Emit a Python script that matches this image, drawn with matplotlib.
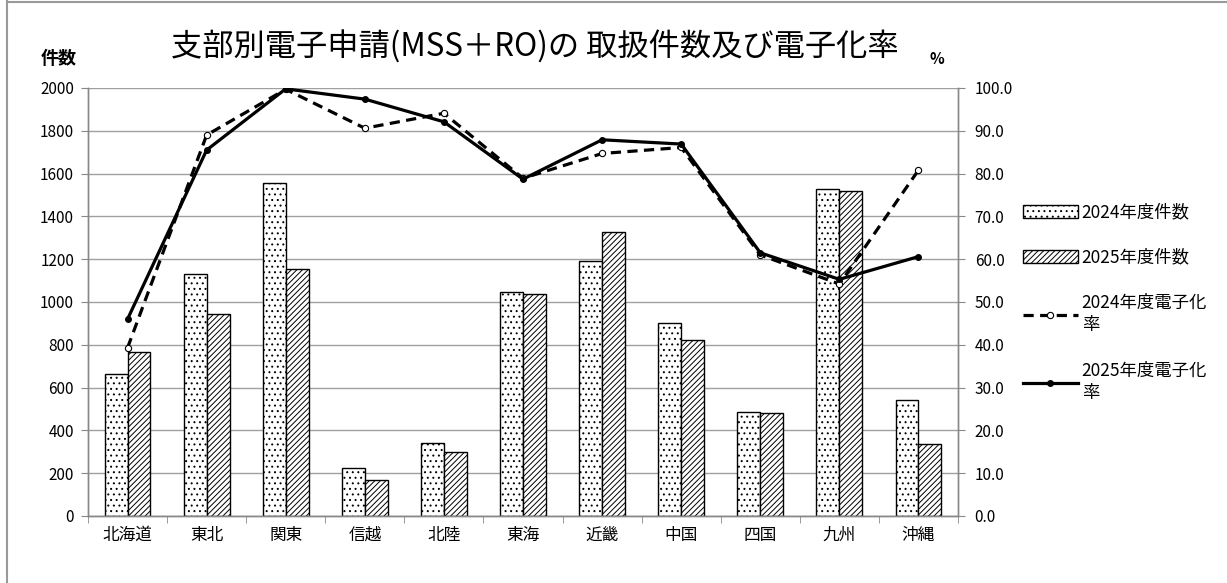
import matplotlib
matplotlib.use("Agg")
import matplotlib.pyplot as plt
from matplotlib.lines import Line2D
import numpy as np

plt.rcParams['font.family'] = ['Noto Sans CJK JP', 'DejaVu Sans']
plt.rcParams['hatch.linewidth'] = 0.7

# data
branches = ['北海道', '東北', '関東', '信越', '北陸', '東海', '近畿', '中国', '四国', '九州', '沖縄']
count_2024 = [662, 1129, 1556, 223, 343, 1047, 1193, 900, 487, 1528, 542]
count_2025 = [768, 942, 1156, 168, 300, 1037, 1327, 822, 480, 1520, 335]
rate_2024 = [39.3, 89.0, 99.7, 90.6, 94.1, 78.9, 84.7, 86.1, 61.0, 54.2, 80.8]
rate_2025 = [46.0, 85.5, 99.8, 97.4, 92.1, 78.7, 87.9, 86.9, 61.5, 55.3, 60.6]
left_ticks = list(range(0, 2001, 200))
right_ticks = list(range(0, 101, 10))

W, H = 1227, 583
fig = plt.figure(figsize=(W / 100, H / 100), dpi=100)
ax = fig.add_axes([88 / W, 1 - 516 / H, 870 / W, 428 / H])
ax2 = ax.twinx()

x = np.arange(len(branches))
bw = 0.29
b1 = ax.bar(x - bw / 2, count_2024, bw, color='white', edgecolor='black',
            hatch='...', linewidth=1.0, label='2024年度件数', zorder=2)
b2 = ax.bar(x + bw / 2, count_2025, bw, color='white', edgecolor='black',
            hatch='//////', linewidth=1.0, label='2025年度件数', zorder=2)

ax.set_xlim(-0.5, len(branches) - 0.5)
ax.set_ylim(0, 2000)
ax.set_yticks(left_ticks)
ax.grid(axis='y', color='#a0a0a0', linewidth=1.0, zorder=0)
ax.set_axisbelow(True)
ax.set_xticks(x)
ax.set_xticklabels(branches, fontsize=12)
ax.set_xticks(np.arange(-0.5, len(branches)), minor=True)
ax.tick_params(axis='x', which='major', length=0, pad=8)
ax.tick_params(axis='x', which='minor', length=5, color='#888888', direction='out')
ax.tick_params(axis='y', length=5, color='#888888', labelsize=11, pad=5)

l1, = ax2.plot(x, rate_2024, color='black', linewidth=2.3, linestyle=(0, (3.2, 2)),
               marker='o', markersize=4.5, markerfacecolor='white',
               markeredgecolor='black', markeredgewidth=0.8, label='2024年度電子化\n率')
l2, = ax2.plot(x, rate_2025, color='black', linewidth=2.3, marker='o', markersize=4,
               label='2025年度電子化\n率')
ax2.set_ylim(0, 100)
ax2.set_yticks(right_ticks)
ax2.set_yticklabels(['%.1f' % v for v in right_ticks])
ax2.tick_params(axis='y', length=5, color='#888888', labelsize=11, pad=7)

for a in (ax, ax2):
    a.spines['top'].set_visible(False)
    for s in ('left', 'right', 'bottom'):
        a.spines[s].set_color('#888888')
        a.spines[s].set_linewidth(1.0)

fig.text(535 / W, 1 - 47 / H, '支部別電子申請(MSS＋RO)の 取扱件数及び電子化率',
         fontsize=22.5, ha='center', va='center')
fig.text(59 / W, 1 - 58 / H, '件数', fontsize=13, fontweight='bold', ha='center', va='center')
fig.text(937 / W, 1 - 59 / H, '%', fontsize=11, fontweight='bold', ha='center', va='center')

leg = fig.legend(handles=[b1, b2, l1, l2], loc='upper left',
                 bbox_to_anchor=(1014 / W, 1 - 195 / H), frameon=False, fontsize=12.5,
                 handlelength=3.2, handleheight=0.75, handletextpad=0.2, labelspacing=1.55,
                 borderpad=0)
for t in leg.get_texts():
    t.set_linespacing(1.35)

# chart border
fig.add_artist(Line2D([7 / W, 7 / W], [0, 1 - 1 / H], color='#999999', linewidth=1.5))
fig.add_artist(Line2D([7 / W, 1], [1 - 1.5 / H, 1 - 1.5 / H], color='#999999', linewidth=1.5))

fig.savefig('out.png', dpi=100)
